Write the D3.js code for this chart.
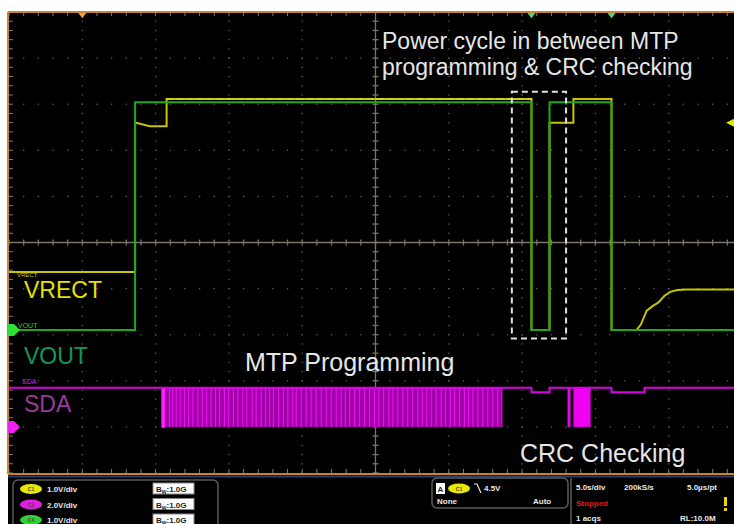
<!DOCTYPE html>
<html>
<head>
<meta charset="utf-8">
<script src="https://cdn.jsdelivr.net/npm/d3@7/dist/d3.min.js"></script>
<style>
  body { margin: 0; background: #fff; }
  svg { display: block; font-family: "Liberation Sans", Arial, sans-serif; }
</style>
</head>
<body>
<div id="scope"></div>
<script>
// time axis: seconds, 5 s/div, trigger point at 0
// VRECT (C1, 1 V/div)
var vrectTime = [-25, -16.4, -16.4, -15.4, -14.25, -14.25, 10.64, 10.64, 11.87, 11.87, 13.5, 13.5, 16.1, 16.1, 17.8, 18.1, 18.5, 18.9, 19.3, 19.7, 20.1, 20.6, 21.2, 25];
var vrectVolt = [1.26, 1.26, 4.5, 4.42, 4.42, 5.0, 5.0, 0, 0, 4.5, 4.5, 5.0, 5.0, 0, 0, 0.12, 0.42, 0.52, 0.6, 0.74, 0.83, 0.87, 0.88, 0.88];
// VOUT (C4, 1 V/div)
var voutTime = [-25, -16.4, -16.4, 10.64, 10.64, 11.87, 11.87, 16.1, 16.1, 25];
var voutVolt = [0, 0, 4.96, 4.96, 0, 0, 4.96, 4.96, 0, 0];
// SDA (C3, 2 V/div) idle line
var sdaTime = [-25, 10.64, 10.64, 11.87, 11.87, 16.1, 16.1, 18.35, 18.35, 25];
var sdaVolt = [1.7, 1.7, 1.5, 1.5, 1.7, 1.7, 1.5, 1.5, 1.7, 1.7];
// SDA bursts (start, end) -- traffic too dense to resolve at 5 s/div
var sdaBurstStart = [-14.6, 13.1, 13.5];
var sdaBurstEnd = [8.62, 13.3, 14.67];
// brighter edges inside the MTP burst
var sdaEdges = [-14.51, -14.05, -13.83, -13.59, -13.32, -13.03, -12.74, -12.46, -12.12, -11.82, -11.51, -11.21,
  -10.91, -10.64, -10.30, -10.01, -9.69, -9.39, -9.05, -8.78, -8.41, -8.14, -7.80, -7.50, -7.23, -6.96, -6.60,
  -6.28, -5.98, -5.64, -5.41, -5.07, -4.73, -4.39, -4.05, -3.70, -3.36, -3.02, -2.68, -2.34, -2.05, -1.77, -1.43,
  -1.09, -0.75, -0.41, -0.07, 0.23, 0.55, 0.91, 1.18, 1.52, 1.86, 2.20, 2.54, 2.89, 3.19, 3.50, 3.80, 4.14, 4.48,
  4.77, 5.10, 5.39, 5.73, 6.07, 6.36, 6.64, 6.98, 7.32, 7.66, 8.00, 8.34, 8.62];

var cursorTimes = [10.64, 16.1];
var triggerTime = -20;
var triggerLevel = 4.5;

var svg = d3.select("#scope").append("svg")
  .attr("width", 734)
  .attr("height", 524),
  width = +svg.attr("width"),
  height = +svg.attr("height");

var gLeft = 9, gTop = 12, gBottom = 473;
var x = d3.scaleLinear().domain([-25, 25]).range([gLeft, 742]);
var yDiv = d3.scaleLinear().domain([-5, 5]).range([gBottom, gTop]);

// channel offsets in divisions
var c1 = function(v) { return yDiv(-1.9 + v / 1); };
var c4 = function(v) { return yDiv(-1.9 + v / 1); };
var c3 = function(v) { return yDiv(-4.0 + v / 2); };

svg.append("rect").attr("x", 8).attr("y", gTop).attr("width", width - 8).attr("height", height - gTop).attr("fill", "#000");

svg.append("clipPath").attr("id", "clip")
  .append("rect").attr("x", 8).attr("y", gTop).attr("width", width - 8).attr("height", gBottom - gTop + 1);

var plot = svg.append("g").attr("clip-path", "url(#clip)");

// dotted graticule
var dx = (x(5) - x(0)) / 5, dy = (yDiv(0) - yDiv(1)) / 5;
var dots = [];
d3.range(-20, 25, 5).forEach(function(t) {
  if (t === 0) return;
  for (var k = -25; k <= 25; k++) dots.push([x(t), yDiv(0) + k * dy]);
});
d3.range(-4, 5).forEach(function(d) {
  if (d === 0) return;
  for (var k = -25; k <= 30; k++) dots.push([x(0) + k * dx, yDiv(d)]);
});
plot.selectAll(".dot").data(dots).enter().append("rect")
  .attr("class", "dot")
  .attr("x", function(d) { return d[0] - 0.6; })
  .attr("y", function(d) { return d[1] - 0.6; })
  .attr("width", 1.3).attr("height", 1.3)
  .attr("fill", "#5c5c5c");

// centre cross with minor ticks
plot.append("line").attr("x1", 8).attr("x2", width).attr("y1", yDiv(0)).attr("y2", yDiv(0))
  .attr("stroke", "#7a7468").attr("stroke-width", 1.3);
plot.append("line").attr("x1", x(0)).attr("x2", x(0)).attr("y1", gTop).attr("y2", gBottom)
  .attr("stroke", "#7a7468").attr("stroke-width", 1.3);
var hticks = d3.range(-25, 31).map(function(k) { return x(0) + k * dx; });
var vticks = d3.range(-25, 26).map(function(k) { return yDiv(0) + k * dy; });
plot.selectAll(".ht").data(hticks).enter().append("line")
  .attr("x1", function(d) { return d; }).attr("x2", function(d) { return d; })
  .attr("y1", yDiv(0) - 3).attr("y2", yDiv(0) + 3)
  .attr("stroke", "#7a7468").attr("stroke-width", 1.3);
plot.selectAll(".vt").data(vticks).enter().append("line")
  .attr("y1", function(d) { return d; }).attr("y2", function(d) { return d; })
  .attr("x1", x(0) - 3).attr("x2", x(0) + 3)
  .attr("stroke", "#7a7468").attr("stroke-width", 1.3);

// border ticks
plot.selectAll(".tt").data(hticks).enter().append("line")
  .attr("x1", function(d) { return d; }).attr("x2", function(d) { return d; })
  .attr("y1", gTop).attr("y2", gTop + 4).attr("stroke", "#8a7a60");
plot.selectAll(".bt").data(hticks).enter().append("line")
  .attr("x1", function(d) { return d; }).attr("x2", function(d) { return d; })
  .attr("y1", gBottom).attr("y2", gBottom - 4).attr("stroke", "#8a7a60");
plot.selectAll(".lt").data(vticks).enter().append("line")
  .attr("y1", function(d) { return d; }).attr("y2", function(d) { return d; })
  .attr("x1", gLeft).attr("x2", gLeft + 4).attr("stroke", "#8a7a60");

// SDA bursts
plot.selectAll(".burst").data(sdaBurstStart).enter().append("rect")
  .attr("class", "burst")
  .attr("x", function(d) { return x(d); })
  .attr("width", function(d, i) { return x(sdaBurstEnd[i]) - x(d); })
  .attr("y", c3(1.7))
  .attr("height", c3(0) - c3(1.7))
  .attr("fill", function(d, i) { return i === 0 ? "#a000a8" : "#f000f0"; });
plot.selectAll(".edge").data(sdaEdges).enter().append("line")
  .attr("x1", function(d) { return x(d); }).attr("x2", function(d) { return x(d); })
  .attr("y1", c3(1.7)).attr("y2", c3(0))
  .attr("stroke", "#e810ea").attr("stroke-width", 1.2);
plot.append("rect").attr("x", x(-14.6)).attr("width", 3.5)
  .attr("y", c3(1.7)).attr("height", c3(0) - c3(1.7) + 1).attr("fill", "#ff20ff");

var line = d3.line();
plot.append("path")
  .attr("d", line(sdaTime.map(function(t, i) { return [x(t), c3(sdaVolt[i])]; })))
  .attr("fill", "none").attr("stroke", "#e000e6").attr("stroke-width", 2);

plot.append("path")
  .attr("d", line(vrectTime.map(function(t, i) { return [x(t), c1(vrectVolt[i]) - (vrectVolt[i] >= 4.9 ? 0.5 : 0)]; })))
  .attr("fill", "none").attr("stroke", "#c9c400").attr("stroke-width", 2);
plot.append("path")
  .attr("d", line(voutTime.map(function(t, i) { return [x(t), c4(voutVolt[i]) + (voutVolt[i] > 4 ? 0.8 : 0)]; })))
  .attr("fill", "none").attr("stroke", "#1fa81f").attr("stroke-width", 2);
// top overlap where both rails sit at 5 V
plot.append("line").attr("x1", x(-14.25)).attr("x2", x(10.64))
  .attr("y1", c1(5.0) - 0.5).attr("y2", c1(5.0) - 0.5)
  .attr("stroke", "#c4e41c").attr("stroke-width", 1.5).attr("stroke-dasharray", "7,3");

// frame
svg.append("line").attr("x1", 8).attr("x2", width).attr("y1", gTop).attr("y2", gTop).attr("stroke", "#c8862c").attr("stroke-width", 2);
svg.append("line").attr("x1", 8).attr("x2", 8).attr("y1", gTop).attr("y2", gBottom + 1).attr("stroke", "#c8862c").attr("stroke-width", 2);
svg.append("line").attr("x1", 8).attr("x2", width).attr("y1", gBottom + 1).attr("y2", gBottom + 1).attr("stroke", "#c8862c").attr("stroke-width", 2);
svg.append("line").attr("x1", 8).attr("x2", width).attr("y1", gBottom + 3.5).attr("y2", gBottom + 3.5).attr("stroke", "#2c3c78").attr("stroke-width", 2);

// top markers
var tri = function(cx, cy, s) { return "M" + (cx - s) + "," + cy + "L" + (cx + s) + "," + cy + "L" + cx + "," + (cy + s * 1.3) + "Z"; };
svg.append("path").attr("d", tri(x(triggerTime), gTop + 1, 4)).attr("fill", "#f0a030");
cursorTimes.forEach(function(t) {
  svg.append("path").attr("d", tri(x(t), gTop + 1, 4)).attr("fill", "#40e070");
});
// trigger level marker (right)
var ty = c1(triggerLevel);
svg.append("path").attr("d", "M726," + ty + "L734," + (ty - 4) + "L734," + (ty + 4) + "Z").attr("fill", "#e8e800");

// channel ground markers (left)
svg.append("path").attr("d", "M8," + (c4(0) - 6) + "L14," + (c4(0) - 6) + "L20," + c4(0) + "L14," + (c4(0) + 6) + "L8," + (c4(0) + 6) + "Z").attr("fill", "#30e030");
svg.append("path").attr("d", "M8," + (c3(0) - 6) + "L14," + (c3(0) - 6) + "L20," + c3(0) + "L14," + (c3(0) + 6) + "L8," + (c3(0) + 6) + "Z").attr("fill", "#f020f0");

svg.append("text").attr("x", 17).attr("y", c1(1.26) + 5).attr("font-size", 6).attr("fill", "#c8c400").text("VRECT");
svg.append("text").attr("x", 18).attr("y", c4(0) - 2).attr("font-size", 7).attr("fill", "#30d030").text("VOUT");
svg.append("text").attr("x", 22).attr("y", c3(1.7) - 4).attr("font-size", 7).attr("fill", "#e020e0").text("SDA");

// annotation box around the power cycle
svg.append("rect")
  .attr("x", x(9.3)).attr("y", c1(5.17))
  .attr("width", x(13.0) - x(9.3)).attr("height", c1(-0.18) - c1(5.17))
  .attr("fill", "none").attr("stroke", "#e0e0e0").attr("stroke-width", 2).attr("stroke-dasharray", "6,4");

// big labels
var big = [
  { t: "Power cycle in between MTP", x: 382, y: 49, s: 23, c: "#e6e6e6" },
  { t: "programming & CRC checking", x: 382, y: 75, s: 23, c: "#e6e6e6" },
  { t: "VRECT", x: 24, y: 298, s: 23, c: "#e4e000" },
  { t: "VOUT", x: 24, y: 364, s: 23, c: "#12985a" },
  { t: "SDA", x: 24, y: 412, s: 23, c: "#9c3a9c" },
  { t: "MTP Programming", x: 245, y: 371, s: 25, c: "#e6e6e6" },
  { t: "CRC Checking", x: 520, y: 462, s: 25, c: "#e6e6e6" }
];
svg.selectAll(".big").data(big).enter().append("text")
  .attr("x", function(d) { return d.x; }).attr("y", function(d) { return d.y; })
  .attr("font-size", function(d) { return d.s; })
  .attr("fill", function(d) { return d.c; })
  .text(function(d) { return d.t; });

// info panel
var info = svg.append("g").attr("font-size", 8).attr("font-weight", "bold").attr("fill", "#e8e8e8");
info.append("rect").attr("x", 13).attr("y", 480).attr("width", 205).attr("height", 60).attr("rx", 5)
  .attr("fill", "none").attr("stroke", "#5a5a5a").attr("stroke-width", 1.5);
var chName = ["C1", "C3", "C4"], chScale = ["1.0V/div", "2.0V/div", "1.0V/div"], chColor = ["#e8e800", "#e020e0", "#30d030"];
chName.forEach(function(n, i) {
  var cy = 489 + i * 15.5;
  info.append("ellipse").attr("cx", 31).attr("cy", cy).attr("rx", 11).attr("ry", 5).attr("fill", chColor[i]);
  info.append("text").attr("x", 31).attr("y", cy + 2).attr("font-size", 5).attr("text-anchor", "middle").attr("fill", "#444").text(n);
  info.append("text").attr("x", 47).attr("y", cy + 3).text(chScale[i]);
  info.append("rect").attr("x", 153).attr("y", cy - 6).attr("width", 41).attr("height", 11).attr("fill", "#fff").attr("stroke", "#888");
  var bw = info.append("text").attr("x", 156).attr("y", cy + 3).attr("fill", "#222");
  bw.append("tspan").text("B");
  bw.append("tspan").attr("font-size", 5).attr("dy", 2).text("W");
  bw.append("tspan").attr("dy", -2).text(":1.0G");
});

info.append("rect").attr("x", 432).attr("y", 478).attr("width", 136).attr("height", 30).attr("rx", 5)
  .attr("fill", "none").attr("stroke", "#5a5a5a").attr("stroke-width", 1.5);
info.append("rect").attr("x", 436).attr("y", 483).attr("width", 9).attr("height", 11).attr("fill", "#fff");
info.append("text").attr("x", 437.5).attr("y", 492).attr("fill", "#222").text("A");
info.append("ellipse").attr("cx", 459).attr("cy", 488.5).attr("rx", 11).attr("ry", 5).attr("fill", "#e8e800");
info.append("text").attr("x", 459).attr("y", 490.5).attr("font-size", 5).attr("text-anchor", "middle").attr("fill", "#444").text("C1");
info.append("path").attr("d", "M474,484L477,484L481,493").attr("fill", "none").attr("stroke", "#e8e8e8").attr("stroke-width", 1.2);
info.append("text").attr("x", 484).attr("y", 491).text("4.5V");
info.append("text").attr("x", 437).attr("y", 504).text("None");
info.append("text").attr("x", 533).attr("y", 504).text("Auto");

info.append("line").attr("x1", 571).attr("x2", 571).attr("y1", 478).attr("y2", 524).attr("stroke", "#5a5a5a").attr("stroke-width", 1.5);
info.append("text").attr("x", 576).attr("y", 490).text("5.0s/div");
info.append("text").attr("x", 624).attr("y", 490).text("200kS/s");
info.append("text").attr("x", 687).attr("y", 490).text("5.0\u00b5s/pt");
info.append("text").attr("x", 576).attr("y", 506).attr("fill", "#e01818").text("Stopped");
info.append("rect").attr("x", 724).attr("y", 497).attr("width", 3).attr("height", 9).attr("fill", "#e8d800");
info.append("rect").attr("x", 724).attr("y", 508).attr("width", 3).attr("height", 3).attr("fill", "#e8d800");
info.append("text").attr("x", 576).attr("y", 521).text("1 acqs");
info.append("text").attr("x", 680).attr("y", 521).text("RL:10.0M");
</script>
</body>
</html>
